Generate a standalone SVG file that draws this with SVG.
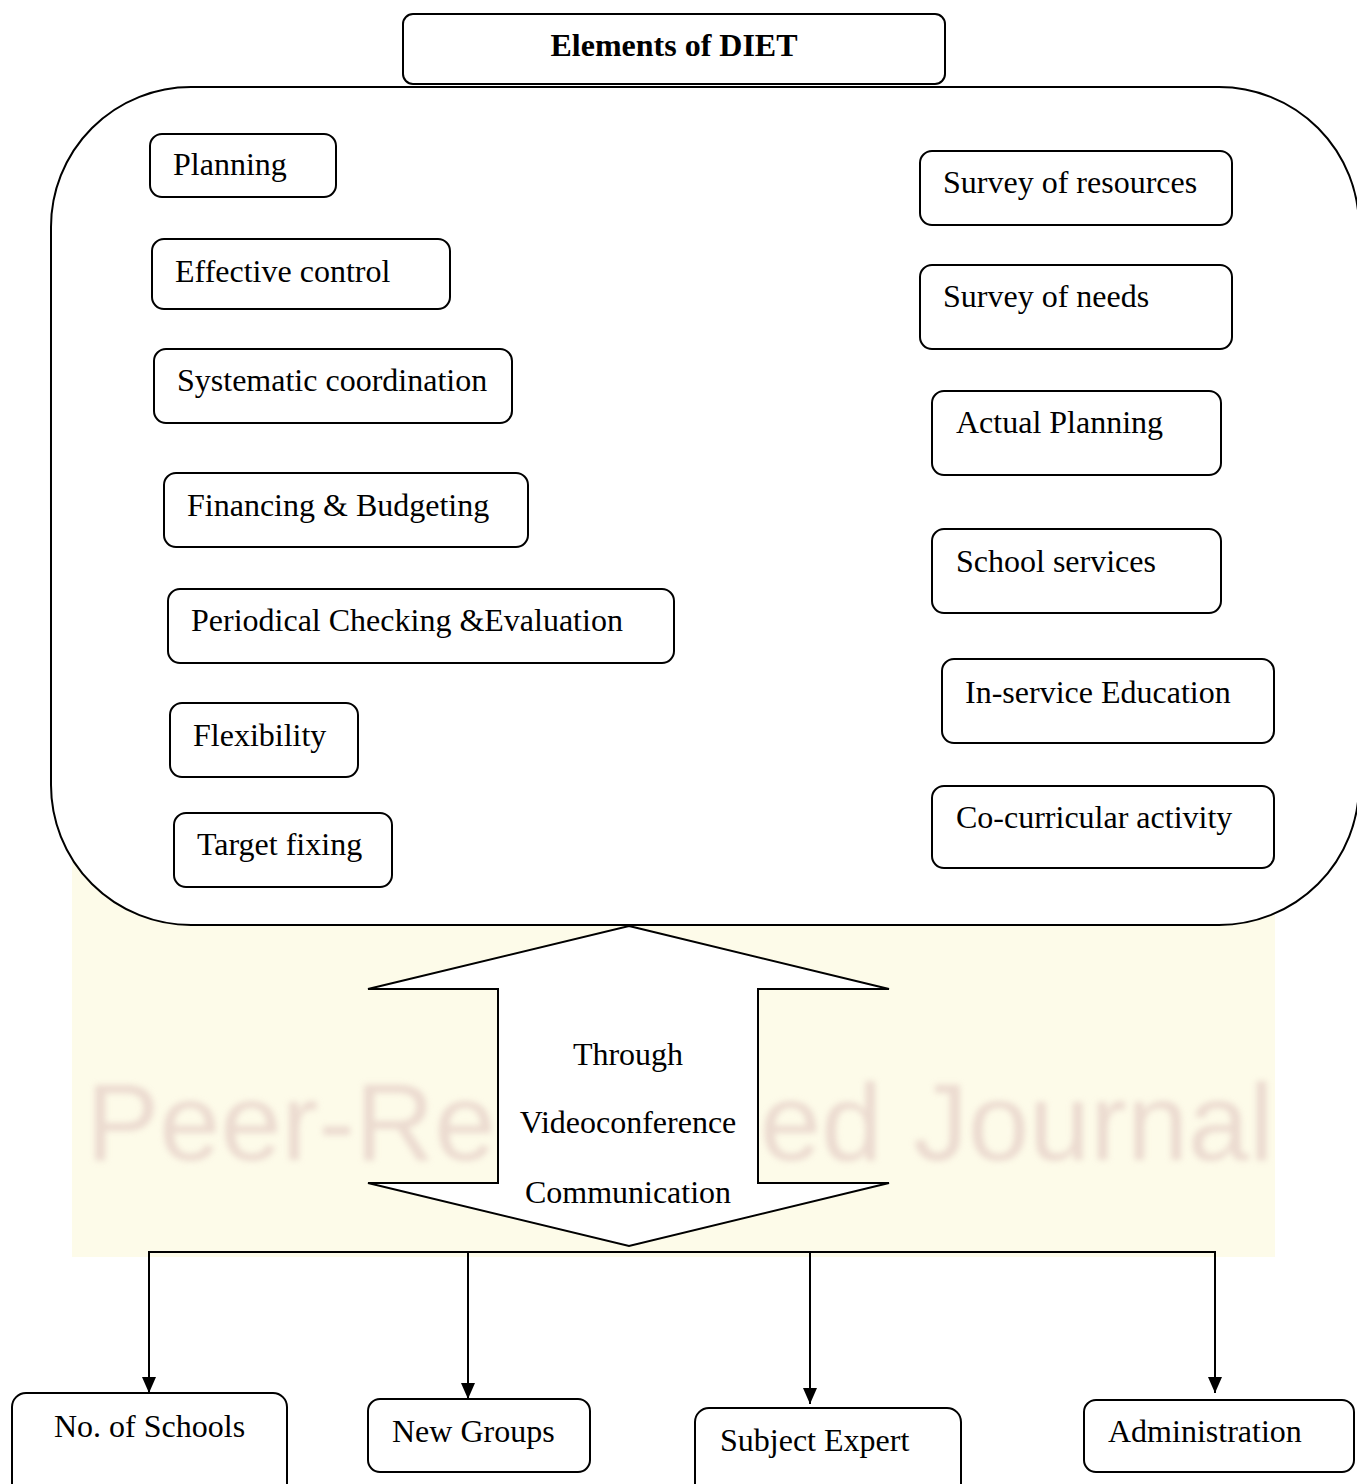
<svg xmlns="http://www.w3.org/2000/svg" width="1357" height="1484" viewBox="0 0 1357 1484">
  <style>
    .box { fill: #ffffff; stroke: #000000; stroke-width: 2; }
    .lbl { font-family: "Liberation Serif", "Times New Roman", serif; font-size: 32px; fill: #000000; }
    .title { font-family: "Liberation Serif", "Times New Roman", serif; font-size: 32px; font-weight: bold; fill: #000000; }
    .conn { fill: none; stroke: #000000; stroke-width: 2; }
    .wm { font-family: "Liberation Sans", Arial, sans-serif; font-size: 110px; fill: #e2c9c2; opacity: 0.65; }
  </style>
  <defs>
    <marker id="ah" markerUnits="userSpaceOnUse" markerWidth="16" markerHeight="14" refX="16" refY="7" orient="auto">
      <path d="M0,0 L16,7 L0,14 Z" fill="#000000"/>
    </marker>
    <filter id="blur" x="-5%" y="-20%" width="110%" height="140%">
      <feGaussianBlur stdDeviation="3"/>
    </filter>
  </defs>

  <rect x="0" y="0" width="1357" height="1484" fill="#ffffff"/>

  <g id="watermark">
    <rect x="72" y="860" width="1203" height="397" fill="#fdfbe9"/>
    <text class="wm" x="86" y="1160" filter="url(#blur)">Peer-Re</text>
    <text class="wm" x="760" y="1160" filter="url(#blur)">ed Journal</text>
  </g>

  <g id="container">
    <rect class="box" x="51" y="87" width="1308" height="838" rx="140" ry="140"/>
  </g>

  <g id="title">
    <rect class="box" x="403" y="14" width="542" height="70" rx="10"/>
    <text class="title" x="674" y="56" text-anchor="middle">Elements of DIET</text>
  </g>

  <g id="n-planning">
    <rect class="box" x="150" y="134" width="186" height="63" rx="12"/>
    <text class="lbl" x="173" y="175">Planning</text>
  </g>
  <g id="n-effective-control">
    <rect class="box" x="152" y="239" width="298" height="70" rx="12"/>
    <text class="lbl" x="175" y="282">Effective control</text>
  </g>
  <g id="n-systematic-coordination">
    <rect class="box" x="154" y="349" width="358" height="74" rx="12"/>
    <text class="lbl" x="177" y="391">Systematic coordination</text>
  </g>
  <g id="n-financing">
    <rect class="box" x="164" y="473" width="364" height="74" rx="12"/>
    <text class="lbl" x="187" y="516">Financing &amp; Budgeting</text>
  </g>
  <g id="n-periodical">
    <rect class="box" x="168" y="589" width="506" height="74" rx="12"/>
    <text class="lbl" x="191" y="631">Periodical Checking &amp;Evaluation</text>
  </g>
  <g id="n-flexibility">
    <rect class="box" x="170" y="703" width="188" height="74" rx="12"/>
    <text class="lbl" x="193" y="746">Flexibility</text>
  </g>
  <g id="n-target-fixing">
    <rect class="box" x="174" y="813" width="218" height="74" rx="12"/>
    <text class="lbl" x="197" y="855">Target fixing</text>
  </g>

  <g id="n-survey-resources">
    <rect class="box" x="920" y="151" width="312" height="74" rx="12"/>
    <text class="lbl" x="943" y="193">Survey of resources</text>
  </g>
  <g id="n-survey-needs">
    <rect class="box" x="920" y="265" width="312" height="84" rx="12"/>
    <text class="lbl" x="943" y="307">Survey of needs</text>
  </g>
  <g id="n-actual-planning">
    <rect class="box" x="932" y="391" width="289" height="84" rx="12"/>
    <text class="lbl" x="956" y="433">Actual Planning</text>
  </g>
  <g id="n-school-services">
    <rect class="box" x="932" y="529" width="289" height="84" rx="12"/>
    <text class="lbl" x="956" y="572">School services</text>
  </g>
  <g id="n-inservice">
    <rect class="box" x="942" y="659" width="332" height="84" rx="12"/>
    <text class="lbl" x="965" y="703">In-service Education</text>
  </g>
  <g id="n-cocurricular">
    <rect class="box" x="932" y="786" width="342" height="82" rx="12"/>
    <text class="lbl" x="956" y="828">Co-curricular activity</text>
  </g>

  <g id="n-double-arrow">
    <polygon class="box" points="629,926 889,989 758,989 758,1183 889,1183 629,1246 368,1183 498,1183 498,989 368,989"/>
    <text class="lbl" x="628" y="1065" text-anchor="middle">Through</text>
    <text class="lbl" x="628" y="1133" text-anchor="middle">Videoconference</text>
    <text class="lbl" x="628" y="1203" text-anchor="middle">Communication</text>
  </g>

  <g id="connectors">
    <path class="conn" d="M149,1252 L1215,1252"/>
    <path class="conn" d="M149,1251 L149,1393" marker-end="url(#ah)"/>
    <path class="conn" d="M468,1251 L468,1399" marker-end="url(#ah)"/>
    <path class="conn" d="M810,1251 L810,1404" marker-end="url(#ah)"/>
    <path class="conn" d="M1215,1251 L1215,1393" marker-end="url(#ah)"/>
  </g>

  <g id="n-no-of-schools">
    <rect class="box" x="12" y="1393" width="275" height="110" rx="14"/>
    <text class="lbl" x="54" y="1437">No. of Schools</text>
  </g>
  <g id="n-new-groups">
    <rect class="box" x="368" y="1399" width="222" height="73" rx="12"/>
    <text class="lbl" x="392" y="1442">New Groups</text>
  </g>
  <g id="n-subject-expert">
    <rect class="box" x="695" y="1408" width="266" height="100" rx="14"/>
    <text class="lbl" x="720" y="1451">Subject Expert</text>
  </g>
  <g id="n-administration">
    <rect class="box" x="1084" y="1400" width="270" height="72" rx="12"/>
    <text class="lbl" x="1108" y="1442">Administration</text>
  </g>
</svg>
